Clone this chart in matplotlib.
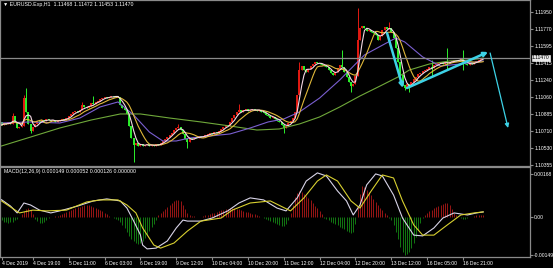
import numpy as np
import pandas as pd
import matplotlib
matplotlib.use("Agg")
import matplotlib.pyplot as plt
import matplotlib.transforms as mtransforms

# EURUSD H1 closes, one per hour from 4 Dec 2019 (16 bars per row)
closes = [
    1.10771, 1.10792, 1.10782, 1.10803, 1.10782, 1.10865, 1.10803, 1.10740, 1.10750, 1.10761, 1.11052, 1.10907, 1.10782, 1.10709, 1.10750, 1.10782,
    1.10813, 1.10803, 1.10823, 1.10813, 1.10834, 1.10823, 1.10813, 1.10823, 1.10803, 1.10813, 1.10823, 1.10834, 1.10823, 1.10844, 1.10865, 1.10886,
    1.10907, 1.10917, 1.10907, 1.10927, 1.10979, 1.10959, 1.10948, 1.10969, 1.11000, 1.10990, 1.11011, 1.11021, 1.11042, 1.11052, 1.11063, 1.11052,
    1.11063, 1.11073, 1.11063, 1.11073, 1.11063, 1.10979, 1.10948, 1.10927, 1.10886, 1.10761, 1.10636, 1.10563, 1.10584, 1.10553, 1.10574, 1.10553,
    1.10563, 1.10574, 1.10553, 1.10563, 1.10553, 1.10574, 1.10563, 1.10584, 1.10605, 1.10626, 1.10646, 1.10667, 1.10688, 1.10719, 1.10740, 1.10750,
    1.10719, 1.10678, 1.10626, 1.10594, 1.10636, 1.10626, 1.10646, 1.10636, 1.10657, 1.10646, 1.10657, 1.10667, 1.10678, 1.10688, 1.10678, 1.10698,
    1.10688, 1.10709, 1.10730, 1.10750, 1.10771, 1.10761, 1.10803, 1.10844, 1.10875, 1.10907, 1.10927, 1.10907, 1.10927, 1.10938, 1.10917, 1.10927,
    1.10938, 1.10927, 1.10917, 1.10927, 1.10907, 1.10896, 1.10875, 1.10865, 1.10844, 1.10855, 1.10834, 1.10813, 1.10803, 1.10771, 1.10740, 1.10761,
    1.10792, 1.10813, 1.10844, 1.10907, 1.11083, 1.11343, 1.11385, 1.11343, 1.11323, 1.11354, 1.11385, 1.11406, 1.11427, 1.11416, 1.11406, 1.11396,
    1.11385, 1.11375, 1.11343, 1.11312, 1.11291, 1.11323, 1.11364, 1.11396, 1.11375, 1.11323, 1.11271, 1.11219, 1.11177, 1.11198, 1.11281, 1.11656,
    1.11780, 1.11801, 1.11780, 1.11749, 1.11760, 1.11739, 1.11728, 1.11708, 1.11656, 1.11697, 1.11760, 1.11791, 1.11770, 1.11780, 1.11739, 1.11676,
    1.11572, 1.11427, 1.11291, 1.11187, 1.11156, 1.11198, 1.11177, 1.11219, 1.11250, 1.11271, 1.11302, 1.11312, 1.11333, 1.11343, 1.11354, 1.11375,
    1.11364, 1.11396, 1.11406, 1.11416, 1.11427, 1.11406, 1.11427, 1.11416, 1.11427, 1.11437, 1.11448, 1.11437, 1.11448, 1.11458, 1.11427, 1.11406,
    1.11396, 1.11416, 1.11406, 1.11427, 1.11437, 1.11448, 1.11468, 1.11470,
]
first_open = 1.10803

# bars with visible wicks (bar index -> extreme)
wick_highs = {5: 1.10896, 10: 1.11083, 11: 1.11156, 36: 1.11011, 41: 1.11073, 79: 1.10782,
              106: 1.10990, 133: 1.11427, 152: 1.11552, 159: 1.11989, 173: 1.11843,
              192: 1.11448, 199: 1.11572, 206: 1.11552}
wick_lows = {13: 1.10688, 59: 1.10386, 83: 1.10532, 126: 1.10688, 156: 1.11115, 180: 1.11135,
             182: 1.11115, 192: 1.11281, 199: 1.11343, 206: 1.11343}

# slow moving averages
green_ma_idx = [0, 13, 26, 40, 53, 62, 75, 89, 102, 114, 124, 133, 142, 151, 160, 169, 177, 182, 191, 200, 209, 215]
green_ma = [1.10553, 1.10646, 1.10740, 1.10823, 1.10886, 1.10886, 1.10844, 1.10803, 1.10761, 1.10719, 1.10730,
            1.10782, 1.10855, 1.10959, 1.11073, 1.11177, 1.11271, 1.11343, 1.11406, 1.11437, 1.11448, 1.11468]
purple_ma_idx = [0, 13, 26, 35, 44, 52, 59, 66, 72, 78, 84, 93, 102, 111, 119, 126, 133, 142, 151, 162, 171, 176,
                 180, 188, 196, 205, 215]
purple_ma = [1.10792, 1.10803, 1.10792, 1.10844, 1.10959, 1.11011, 1.10875, 1.10698, 1.10605, 1.10605, 1.10636,
             1.10657, 1.10678, 1.10740, 1.10803, 1.10834, 1.10907, 1.11052, 1.11240, 1.11500, 1.11614, 1.11676,
             1.11635, 1.11479, 1.11385, 1.11406, 1.11437]

# MACD(12,26,9), values in 1e-5
macd_idx = [0, 4, 7, 10, 13, 17, 22, 26, 34, 41, 47, 53, 56, 59, 62, 63, 65, 69, 74, 78, 81, 83, 89, 94, 101, 106,
            111, 117, 123, 127, 132, 136, 141, 145, 150, 154, 157, 160, 163, 167, 170, 175, 179, 184, 188, 193, 197,
            202, 208, 212, 215]
macd_main = [66, 41, 14, 53, 45, 25, 14, 22, 41, 61, 69, 61, 33, -18, -72, -112, -127, -124, -96, -45, -14, -18, -18,
             -6, 22, 53, 73, 65, 33, 22, 73, 139, 171, 159, 100, 61, 6, 45, 124, 167, 159, 84, -6, -73, -76, -45, -6,
             14, 6, 14, 18]
signal_idx = [0, 8, 14, 20, 29, 38, 44, 52, 56, 60, 63, 68, 71, 77, 83, 89, 98, 103, 111, 120, 129, 135, 141, 145,
              150, 156, 160, 165, 170, 175, 179, 184, 188, 193, 199, 205, 211, 215]
macd_signal = [61, 14, 25, 22, 25, 57, 65, 65, 45, 14, -45, -112, -124, -104, -57, -18, -6, 25, 53, 61, 22, 73, 139,
               163, 139, 61, 33, 100, 163, 151, 61, -33, -73, -73, -33, 6, 14, 18]
macd_hist = [
    -15, -20, -22, -24, -22, -20, -15, -8, -3,
    8, 20, 30, 33, 25, 10,
    -8, -18, -25, -26, -22, -14, -6,
    -3, 0, 2, 3, 5,
    8, 12, 16, 20, 24, 28, 32, 36, 39, 42, 44, 45, 44, 42, 39, 35, 30, 25, 20, 14, 8, 3,
    -3, -6, -10, -15, -22, -32, -45, -60, -75, -88, -98, -104, -106, -102, -95, -85, -72, -58, -42, -28, -12,
    5, 12, 20, 28, 37, 46, 54, 60, 64, 66, 60, 46, 30, 15, 5,
    2, 1, 0, -1, 0, 2, 4,
    6, 9, 12, 15, 18, 21, 24, 27, 29, 31, 33, 33, 32, 30, 28, 25, 22, 19, 16, 13, 10, 8, 5, 2,
    -3, -7, -11, -15, -19, -23, -27, -31, -34, -37, -36, -28, -12,
    15, 45, 75, 92, 100, 97, 90, 82, 73, 64, 54, 43, 32, 20, 8,
    -5, -10, -15, -20, -25, -30, -35, -40, -45, -50, -55, -60, -64, -60, -30,
    40, 90, 120, 115, 105, 95, 83, 70, 58, 46, 35, 24, 14, 5,
    -5, -15, -35, -60, -90, -120, -140, -150, -148, -140, -125, -105, -80, -52, -25, -6,
    5, 12, 20, 27, 32, 36, 40, 44, 48, 52, 53, 45, 30, 15, 5,
    -3, -6, -8, -8, -6, -3, 0, 2, 4, 5, 5, 4,
]

price_ticks = [1.11950, 1.11770, 1.11595, 1.11415, 1.11240, 1.11060, 1.10885, 1.10710, 1.10530, 1.10355]
macd_ticks = [0.00168, 0.0, -0.00149]
macd_tick_labels = ["0.00168", "0.00", "-0.00149"]
date_labels = ["4 Dec 2019", "4 Dec 19:00", "5 Dec 11:00", "6 Dec 03:00", "6 Dec 19:00", "9 Dec 12:00",
               "10 Dec 04:00", "10 Dec 20:00", "11 Dec 12:00", "12 Dec 04:00", "12 Dec 20:00", "13 Dec 12:00",
               "16 Dec 05:00", "16 Dec 21:00"]

# hand drawn arrows (bar index, price)
arrows = [((172.1, 1.11728), (179.2, 1.11156), 1.8),
          ((181.0, 1.11156), (217.2, 1.11531), 1.8),
          ((218.1, 1.11520), (226.1, 1.10740), 0.9)]

plt.rcParams['font.family'] = ['Liberation Sans', 'DejaVu Sans']
FS = 3.6
W, H = 553, 268
fig = plt.figure(figsize=(W / 100, H / 100), dpi=100, facecolor='black')
ax = fig.add_axes([0, 102 / H, 530 / W, 166 / H])
ax2 = fig.add_axes([0, 11 / H, 530 / W, 90 / H])
for a in (ax, ax2):
    a.set_facecolor('black')
    for s in a.spines.values():
        s.set_color('#8a8a8a')
        s.set_linewidth(0.9)
    a.set_xlim(-0.67, 235.9)

c = np.array(closes)
x = np.arange(len(c))
o = np.r_[first_open, c[:-1]]
hi = np.maximum(o, c)
lo = np.minimum(o, c)
for k, v in wick_highs.items():
    hi[k] = v
for k, v in wick_lows.items():
    lo[k] = v
cols = np.where(c >= o, '#e41a12', '#2cf02c')

# CANDLES
ax.vlines(x, lo, hi, colors=cols, lw=0.7)
ax.vlines(x, o, c, colors=cols, lw=1.4)

# MOVING AVERAGES
s = pd.Series(c)
ax.plot(green_ma_idx, green_ma, color='#6fa83a', lw=0.8)
ax.plot(purple_ma_idx, purple_ma, color='#7a5fd0', lw=0.8)
ax.plot(x, s.rolling(9, min_periods=1).mean(), color='#e0b83a', lw=0.8)
ax.plot(x, s.rolling(4, min_periods=1).mean(), color='#f4d8e4', lw=0.8)

ax.axhline(c[-1], color='#8a8a8a', lw=0.9)

for start, end, lw in arrows:
    ax.annotate('', xy=end, xytext=start,
                arrowprops=dict(arrowstyle='-|>', color='#3dd2e6', lw=lw, mutation_scale=6,
                                shrinkA=0, shrinkB=0))

ax.set_ylim(1.103447, 1.120717)
ax.yaxis.tick_right()
ax.set_yticks(price_ticks)
ax.set_yticklabels([f"{p:.5f}" for p in price_ticks])
ax.tick_params(axis='y', colors='#8a8a8a', labelcolor='white', labelsize=FS, length=2, pad=1)
ax.set_xticks([])
bt = mtransforms.blended_transform_factory(ax.transAxes, ax.transData)
ax.text(1.004, c[-1], f"{c[-1]:.5f}", transform=bt, fontsize=FS, color='black', va='center', ha='left',
        bbox=dict(boxstyle='square,pad=0.1', fc='#e8e8e8', ec='white', lw=0.4))

# MACD PANEL
h = np.array(macd_hist) * 1e-5
ax2.vlines(x, 0, h, colors=np.where(h >= 0, '#b01818', '#158a15'), lw=0.6)
ax2.plot(macd_idx, np.array(macd_main) * 1e-5, color='#d8d4e8', lw=0.8)
ax2.plot(signal_idx, np.array(macd_signal) * 1e-5, color='#d8d030', lw=0.8)
ax2.set_ylim(-0.001588, 0.001941)
ax2.yaxis.tick_right()
ax2.set_yticks(macd_ticks)
ax2.set_yticklabels(macd_tick_labels)
ax2.tick_params(axis='y', colors='#8a8a8a', labelcolor='white', labelsize=FS, length=2, pad=1)
date_pos = [0] + [16 * k - 2 for k in range(1, len(date_labels))]
ax2.set_xticks(date_pos)
ax2.set_xticklabels(date_labels, ha='left')
ax2.tick_params(axis='x', colors='#8a8a8a', labelcolor='white', labelsize=FS, length=2, pad=1)

fig.text(3 / W, 1 - 4.5 / H, "\u25bc EURUSD.Exp,H1  1.11468 1.11472 1.11453 1.11470", color='white',
         fontsize=FS + 0.2, va='center')
fig.text(4 / W, 1 - 172 / H, "MACD(12,26,9) 0.000149 0.000052 0.000126 0.000000", color='white',
         fontsize=FS + 0.2, va='center')

fig.savefig("out.png", dpi=100, facecolor='black')
